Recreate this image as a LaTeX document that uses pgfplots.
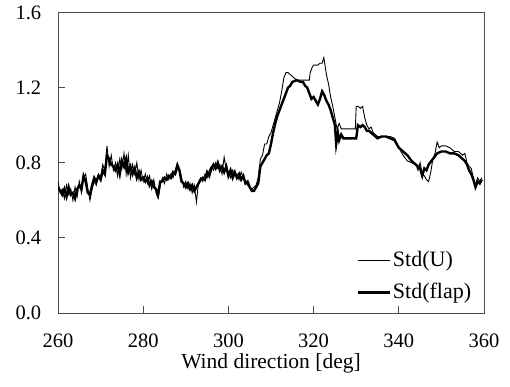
\documentclass[border=0pt]{standalone}
\usepackage{fontspec}
\setmainfont{Liberation Serif}
\usepackage{pgfplots}
\pgfplotsset{compat=1.18}
\begin{document}
\fontsize{20}{24}\selectfont
\begin{tikzpicture}
\begin{axis}[
  name=a,
  scale only axis,
  width=426pt, height=300.5pt,
  xmin=260, xmax=360, ymin=0, ymax=1.6,
  xtick={260,280,...,360},
  ytick={0,0.4,0.8,1.2,1.6},
  tick align=inside,
  xtick pos=bottom, ytick pos=left,
  major tick length=7pt,
  axis line style={black!70, line width=1pt},
  tick style={black!70, line width=0.8pt},
  /pgf/number format/assume math mode=true,
  ticklabel style={font=\fontsize{20.5}{24}\selectfont},
  yticklabel style={/pgf/number format/fixed, /pgf/number format/fixed zerofill, /pgf/number format/precision=1, xshift=-10pt},
  xticklabel style={/pgf/number format/fixed, /pgf/number format/precision=0, yshift=-14pt},
  xlabel={Wind direction [deg]},
  xlabel style={font=\fontsize{21.5}{24}\selectfont, yshift=8pt},
  legend style={at={(0.975,0.03)}, anchor=south east, draw=none, fill=none,
    font=\fontsize{22}{26}\selectfont, row sep=10pt, inner sep=0pt},
  legend cell align=left,
  legend image code/.code={\draw[#1] (0pt,0pt) -- (32pt,0pt);},
]
\addplot[black, line width=0.9pt] coordinates {
(260,0.70)(260.5,0.64)(261,0.66)(261.5,0.61)(262,0.68)(262.5,0.63)(263,0.66)(263.5,0.60)(264,0.67)(264.5,0.62)
(265,0.70)(265.5,0.64)(266,0.72)(266.5,0.74)(267,0.66)(267.5,0.60)(268,0.66)(268.5,0.70)(269,0.68)(269.5,0.74)
(270,0.72)(270.5,0.79)(271,0.76)(271.5,0.89)(272,0.78)(272.5,0.84)(273,0.76)(273.5,0.80)(274,0.73)(274.5,0.82)
(275,0.77)(275.5,0.85)(276,0.74)(276.5,0.84)(277,0.72)(277.5,0.79)(278,0.74)(278.5,0.80)(279,0.71)(279.5,0.76)
(280,0.70)(280.5,0.74)(281,0.69)(281.5,0.73)(282,0.66)(282.5,0.71)(283,0.64)(283.5,0.61)(284,0.68)(284.5,0.72)
(285,0.69)(285.5,0.74)(286,0.71)(286.5,0.74)(287,0.72)(287.5,0.76)(288,0.80)(288.5,0.77)(289,0.72)(289.5,0.67)
(290,0.70)(290.5,0.66)(291,0.69)(291.5,0.64)(292,0.68)(292.5,0.59)(293,0.70)(293.5,0.72)(294,0.70)(294.5,0.74)
(295,0.72)(295.5,0.76)(296,0.78)(296.5,0.76)(297,0.80)(297.5,0.77)(298,0.79)(298.5,0.74)(299,0.83)(299.5,0.76)
(300,0.75)(300.5,0.72)(301,0.76)(301.5,0.73)(302,0.74)(302.5,0.71)(303,0.75)(303.5,0.72)(304,0.70)(304.5,0.68)
(305,0.67)(305.5,0.66)(306,0.67)(306.5,0.68)(307,0.72)(307.5,0.82)(308,0.84)(308.5,0.90)(309,0.90)(309.5,0.94)
(310,0.96)(310.5,1.00)(311,1.04)(311.5,1.08)(312,1.12)(312.5,1.18)(313,1.25)(313.5,1.28)(314,1.28)(314.5,1.27)
(315,1.26)(315.5,1.25)(316,1.24)(317,1.24)(318,1.24)(319,1.24)(319.2,1.28)(319.7,1.31)(320,1.32)(321,1.32)
(321.5,1.33)(322,1.33)(322.4,1.36)(323,1.27)(323.5,1.22)(324,1.15)(324.5,1.10)(325,1.04)(325.5,0.98)(326,1.01)
(326.5,0.98)(327,0.98)(328,0.98)(329,0.98)(329.8,0.98)(330,1.10)(330.5,1.10)(331,1.09)(331.5,1.10)(332,1.04)
(332.5,1.00)(333,0.98)(333.5,0.99)(334,0.96)(335,0.94)(336,0.94)(337,0.94)(338,0.94)(339,0.93)(340,0.88)
(341,0.84)(342,0.81)(343,0.80)(344,0.79)(344.5,0.76)(345,0.80)(345.5,0.74)(346,0.73)(346.5,0.71)(347,0.70)
(347.5,0.75)(348,0.82)(348.5,0.85)(349,0.91)(349.5,0.88)(350,0.89)(351,0.89)(352,0.88)(353,0.86)(354,0.86)
(355,0.84)(355.5,0.85)(356,0.80)(356.5,0.78)(357,0.77)(357.5,0.72)(358,0.68)(358.5,0.72)(359,0.70)(359.5,0.72)
};
\addlegendentry{Std(U)}
\addplot[black, line width=2.4pt] coordinates {
(260,0.67)(260.5,0.65)(261,0.63)(261.5,0.66)(262,0.62)(262.5,0.67)(263,0.63)(263.5,0.64)(264,0.61)(264.5,0.66)
(265,0.68)(265.5,0.66)(266,0.73)(266.5,0.70)(267,0.64)(267.5,0.63)(268,0.68)(268.5,0.72)(269,0.70)(269.5,0.73)
(270,0.71)(270.5,0.76)(271,0.74)(271.5,0.84)(272,0.82)(272.5,0.79)(273,0.78)(273.5,0.76)(274,0.79)(274.5,0.74)
(275,0.81)(275.5,0.78)(276,0.82)(276.5,0.75)(277,0.78)(277.5,0.74)(278,0.77)(278.5,0.72)(279,0.75)(279.5,0.71)
(280,0.72)(280.5,0.70)(281,0.72)(281.5,0.68)(282,0.70)(282.5,0.67)(283,0.66)(283.5,0.63)(284,0.70)(284.5,0.70)
(285,0.72)(285.5,0.71)(286,0.73)(286.5,0.72)(287,0.75)(287.5,0.74)(288,0.78)(288.5,0.76)(289,0.70)(289.5,0.69)
(290,0.67)(290.5,0.69)(291,0.66)(291.5,0.68)(292,0.65)(292.5,0.67)(293,0.69)(293.5,0.71)(294,0.72)(294.5,0.71)
(295,0.75)(295.5,0.73)(296,0.77)(296.5,0.79)(297,0.77)(297.5,0.80)(298,0.76)(298.5,0.78)(299,0.75)(299.5,0.78)
(300,0.73)(300.5,0.76)(301,0.72)(301.5,0.75)(302,0.72)(302.5,0.74)(303,0.71)(303.5,0.73)(304,0.69)(304.5,0.70)
(305,0.67)(305.5,0.65)(306,0.65)(306.5,0.67)(307,0.69)(307.5,0.78)(308,0.80)(308.5,0.82)(309,0.84)(309.5,0.85)
(310,0.90)(310.5,0.96)(311,1.01)(311.5,1.05)(312,1.08)(312.5,1.11)(313,1.14)(313.5,1.17)(314,1.20)(314.5,1.21)
(315,1.23)(316,1.24)(317,1.23)(317.5,1.23)(318,1.21)(318.5,1.20)(319,1.17)(319.5,1.14)(320,1.15)(320.5,1.13)
(321,1.11)(321.5,1.14)(322,1.18)(322.5,1.16)(323,1.13)(323.5,1.11)(324,1.08)(324.5,1.04)(325,1.00)(325.3,0.90)
(325.7,0.96)(326,0.92)(326.5,0.95)(327,0.93)(328,0.93)(329,0.93)(330,0.93)(330.4,1.00)(331,0.99)(331.5,1.00)
(332,0.99)(332.5,0.97)(333,0.97)(334,0.95)(335,0.93)(336,0.94)(337,0.94)(338,0.93)(339,0.92)(340,0.88)
(341,0.86)(342,0.84)(343,0.81)(344,0.79)(345,0.77)(345.5,0.73)(346,0.77)(346.5,0.76)(347,0.79)(348,0.82)
(349,0.85)(350,0.86)(351,0.86)(352,0.85)(353,0.85)(354,0.84)(355,0.82)(355.5,0.81)(356,0.79)(356.5,0.76)
(357,0.74)(357.5,0.71)(358,0.67)(358.5,0.70)(359,0.69)(359.5,0.71)
};
\addlegendentry{Std(flap)}
\end{axis}
\pgfresetboundingbox
\path[use as bounding box] ([xshift=-58pt,yshift=-73pt]a.south west) rectangle ([xshift=26pt,yshift=12.5pt]a.north east);
\end{tikzpicture}
\end{document}
